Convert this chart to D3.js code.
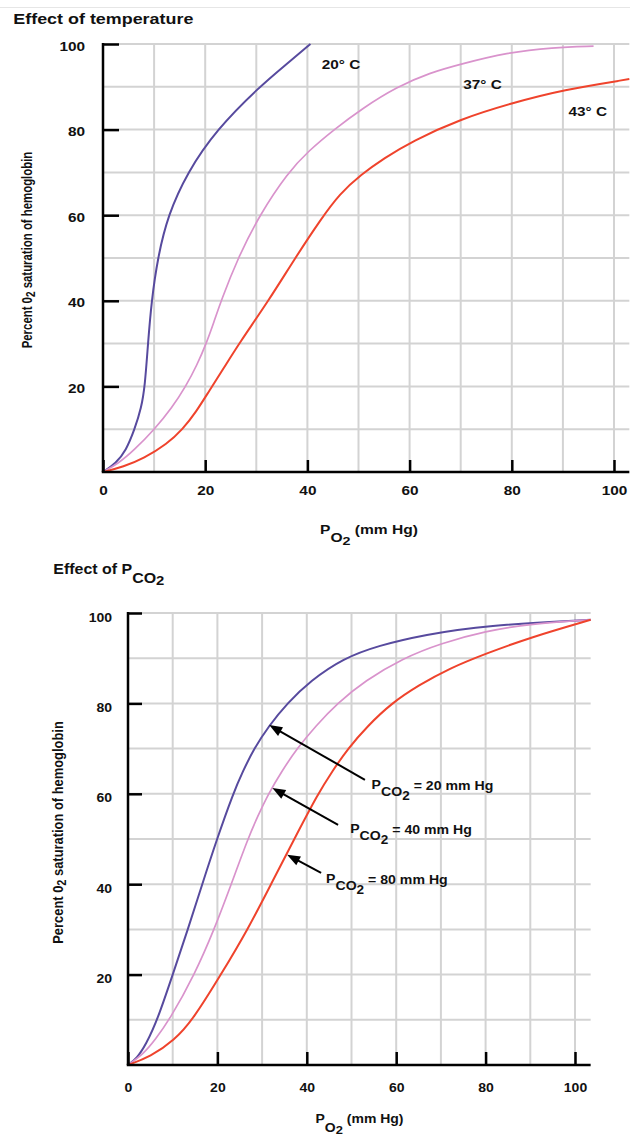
<!DOCTYPE html>
<html>
<head>
<meta charset="utf-8">
<script src="https://cdn.jsdelivr.net/npm/d3@7"></script>
<style>
  html, body { margin: 0; padding: 0; background: #fff; }
  svg { display: block; }
  text { font-family: "Liberation Sans", Arial, Helvetica, sans-serif; font-weight: bold; fill: #111; }
</style>
</head>
<body>
<svg id="chart"></svg>
<script>
// shared axis values
var xTicks = [0, 20, 40, 60, 80, 100];
var yTicks = [20, 40, 60, 80, 100];
var gridSteps = [10, 20, 30, 40, 50, 60, 70, 80, 90, 100];

// top panel: effect of temperature  [PO2, % saturation]
var temp20 = [[0,0],[2.5,2],[4.5,5],[6.2,10],[7.5,15],[8.2,20],[8.8,30],[9.5,40],[10.7,50],[12.7,60],[16.5,70],[22.2,80],[30.6,90],[35.6,95],[40.6,100]];
var temp37 = [[0,0],[3,2],[6,5],[10.1,10],[13.5,15],[16.2,20],[18.4,25],[20.2,30],[21.7,35],[23.1,40],[26.4,50],[30.6,60],[36.2,70],[40.2,75],[45.2,80],[50.8,85],[57.5,90],[64,93.3],[70,95.3],[79,98],[88,99.2],[96,99.5]];
var temp43 = [[0,0],[4,1.2],[8,3.2],[12.5,6.5],[15.6,10],[18.2,14],[20.8,19],[23.5,24],[26.6,30],[32.4,40],[37.6,50],[42.6,59],[46.3,65],[50.5,69.5],[55,73.3],[60.5,77.3],[70,82.5],[80,86.2],[90,89.3],[103,91.8]];
var tempNames = ['20° C', '37° C', '43° C'];
var tempLabelAt = [[42.8, 94.2], [70.5, 89.4], [91.1, 83.2]];

// bottom panel: effect of PCO2
var co2_20 = [[0,0],[2,1.5],[4,4.5],[6.6,10],[10,20],[13.4,30],[16.6,40],[19.9,50],[23.5,60],[25.7,65],[28.2,70],[31.5,75],[35.6,80],[40.8,85],[48.2,90],[56,92.8],[66.3,95.2],[80,97.3],[103.5,98.5]];
var co2_40 = [[0,0],[3.5,2.5],[6,5.5],[9.3,10],[14.9,20],[19.3,30],[23.1,40],[26.8,50],[29,55],[31.4,60],[34.4,65],[37.8,70],[42,75],[46.8,80],[53,85],[61.5,90],[70,93.3],[80,96],[90,97.6],[103.5,98.5]];
var co2_80 = [[0,0],[5,1.8],[10.4,5.5],[14.5,10],[20.8,20],[26.8,30],[32,40],[37.2,50],[42.5,60],[45.7,65],[49.2,70],[53.6,75],[58.9,80],[65,84],[72,87.8],[80,91],[90,94.6],[103.5,98.5]];
var co2Values = ['20', '40', '80'];
var co2TextAt = [[54.5, 61.1], [49.7, 51.3], [44.3, 40.3]];
var co2ArrowFrom = [[53, 63.1], [47, 53.1], [43.2, 42.5]];
var co2ArrowTo = [[31.6, 75.2], [32.3, 61.3], [35.6, 46.5]];

var colors = ['#574a9e', '#d993cc', '#ef432c'];
var widths = [2, 1.7, 2];

var svg = d3.select('#chart')
    .attr('width', 630)
    .attr('height', 1136);

svg.append('line')
    .attr('x1', 0).attr('x2', 630)
    .attr('y1', 7.5).attr('y2', 7.5)
    .attr('stroke', '#e6e6e6');

// text squeezed into the reference's wide lettering
function stretched(g, x, y, size, sx, anchor) {
  return g.append('text')
      .attr('transform', 'translate(' + x + ',' + y + ') scale(' + sx + ',1)')
      .attr('font-size', size)
      .attr('text-anchor', anchor || 'start');
}

function panel(p) {
  var x = d3.scaleLinear().domain([0, 100]).range(p.xRange);
  var y = d3.scaleLinear().domain([0, 100]).range(p.yRange);
  var g = svg.append('g');

  // grid
  g.selectAll('.vgrid')
    .data(gridSteps)
    .enter()
    .append('line')
      .attr('x1', d => x(d)).attr('x2', d => x(d))
      .attr('y1', y(0)).attr('y2', y(100))
      .attr('stroke', '#d3d3d3')
      .attr('stroke-width', 2);

  g.selectAll('.hgrid')
    .data(gridSteps)
    .enter()
    .append('line')
      .attr('x1', x(0)).attr('x2', x(p.xEnd))
      .attr('y1', d => y(d)).attr('y2', d => y(d))
      .attr('stroke', '#d3d3d3')
      .attr('stroke-width', 2);

  // curves
  var line = d3.line()
      .x(d => x(d[0]))
      .y(d => y(d[1]))
      .curve(d3.curveBasis);

  p.series.forEach(function(s, i) {
    g.append('path')
        .datum(s)
        .attr('d', line)
        .attr('fill', 'none')
        .attr('stroke', colors[i])
        .attr('stroke-width', widths[i]);
  });

  // axes
  var yAxis = d3.axisLeft(y)
      .tickValues(yTicks)
      .tickSize(-p.yTick)
      .tickSizeOuter(0);
  var ya = g.append('g')
      .attr('transform', 'translate(' + x(0) + ',0)')
      .call(yAxis);
  ya.select('.domain').remove();
  ya.selectAll('line').attr('stroke', '#000').attr('stroke-width', 2.5);
  ya.selectAll('text')
      .attr('x', -p.yLabelGap / p.sx)
      .attr('dy', p.yLabelDy)
      .attr('transform', 'scale(' + p.sx + ',1)')
      .attr('font-size', p.tickFont);

  var xAxis = d3.axisBottom(x)
      .tickValues(xTicks)
      .tickSize(-p.xTick)
      .tickSizeOuter(0);
  var xa = g.append('g')
      .attr('transform', 'translate(0,' + y(0) + ')')
      .call(xAxis);
  xa.select('.domain').remove();
  xa.selectAll('line').attr('stroke', '#000').attr('stroke-width', 2.5);
  xa.selectAll('text')
      .attr('y', p.xLabelY)
      .attr('dy', 0)
      .attr('transform', 'scale(' + p.sx + ',1)')
      .attr('font-size', p.tickFont);

  g.append('line')
      .attr('x1', x(0) - 1.25).attr('x2', x(p.xEnd))
      .attr('y1', y(0)).attr('y2', y(0))
      .attr('stroke', '#000').attr('stroke-width', 2.5);
  g.append('line')
      .attr('x1', x(0)).attr('x2', x(0))
      .attr('y1', y(0)).attr('y2', y(100) - 1)
      .attr('stroke', '#000').attr('stroke-width', 2.5);

  return { g: g, x: x, y: y };
}

// ---------- top panel ----------
var tempPanel = panel({
  xRange: [103, 614], yRange: [472, 44], xEnd: 103,
  sx: 1.28, tickFont: 12, yTick: 16, xTick: 12,
  yLabelGap: 18, yLabelDy: 6, xLabelY: 23,
  series: [temp20, temp37, temp43]
});

stretched(svg, 13.3, 23.5, 14, 1.28).text('Effect of temperature');

tempNames.forEach(function(name, i) {
  stretched(tempPanel.g, tempPanel.x(tempLabelAt[i][0]), tempPanel.y(tempLabelAt[i][1]), 12, 1.28).text(name);
});

var tx = stretched(svg, 369, 534, 12, 1.3, 'middle');
tx.append('tspan').text('P');
tx.append('tspan').attr('dy', 8).text('O');
tx.append('tspan').attr('dy', 3).attr('font-size', 11).text('2');
tx.append('tspan').attr('dy', -11).text(' (mm Hg)');

var ty = svg.append('text')
    .attr('transform', 'translate(31.5,250) scale(1.28,1) rotate(-90)')
    .attr('font-size', 11.4)
    .attr('text-anchor', 'middle');
ty.append('tspan').text('Percent 0');
ty.append('tspan').attr('dy', 3).attr('font-size', 10).text('2');
ty.append('tspan').attr('dy', -3).text(' saturation of hemoglobin');

// ---------- bottom panel ----------
var co2Panel = panel({
  xRange: [128, 575], yRange: [1065, 613], xEnd: 103.5,
  sx: 1.12, tickFont: 12.5, yTick: 14, xTick: 13,
  yLabelGap: 16, yLabelDy: 8, xLabelY: 27,
  series: [co2_20, co2_40, co2_80]
});

var bt = stretched(svg, 53.3, 574, 14, 1.14);
bt.append('tspan').text('Effect of P');
bt.append('tspan').attr('dy', 9).text('CO');
bt.append('tspan').attr('dy', 2).attr('font-size', 13).text('2');

var bx = stretched(svg, 359.5, 1123, 12.5, 1.12, 'middle');
bx.append('tspan').text('P');
bx.append('tspan').attr('dy', 8.5).text('O');
bx.append('tspan').attr('dy', 3).attr('font-size', 11.5).text('2');
bx.append('tspan').attr('dy', -11.5).text(' (mm Hg)');

var by = svg.append('text')
    .attr('transform', 'translate(63,832.5) scale(1.14,1) rotate(-90)')
    .attr('font-size', 12.9)
    .attr('text-anchor', 'middle');
by.append('tspan').text('Percent 0');
by.append('tspan').attr('dy', 3).attr('font-size', 11).text('2');
by.append('tspan').attr('dy', -3).text(' saturation of hemoglobin');

// arrows pointing at the curves
function arrow(g, from, to) {
  var x1 = co2Panel.x(from[0]), y1 = co2Panel.y(from[1]);
  var x2 = co2Panel.x(to[0]), y2 = co2Panel.y(to[1]);
  var a = Math.atan2(y2 - y1, x2 - x1);
  var head = 13, half = 5;
  var hx = x2 - head * Math.cos(a), hy = y2 - head * Math.sin(a);
  g.append('line')
      .attr('x1', x1).attr('y1', y1)
      .attr('x2', hx + 2 * Math.cos(a)).attr('y2', hy + 2 * Math.sin(a))
      .attr('stroke', '#000').attr('stroke-width', 2);
  var pts = [
    [x2, y2],
    [hx + half * Math.sin(a), hy - half * Math.cos(a)],
    [hx - half * Math.sin(a), hy + half * Math.cos(a)]
  ];
  g.append('polygon')
      .attr('points', pts.map(d => d.join(',')).join(' '))
      .attr('fill', '#000');
}

co2Values.forEach(function(v, i) {
  arrow(co2Panel.g, co2ArrowFrom[i], co2ArrowTo[i]);
  var t = stretched(co2Panel.g, co2Panel.x(co2TextAt[i][0]), co2Panel.y(co2TextAt[i][1]), 12.5, 1.13);
  t.append('tspan').text('P');
  t.append('tspan').attr('dy', 7).text('CO');
  t.append('tspan').attr('dy', 4).attr('font-size', 12).text('2');
  t.append('tspan').attr('dy', -10).text(' = ' + v + ' mm Hg');
});
</script>
</body>
</html>
